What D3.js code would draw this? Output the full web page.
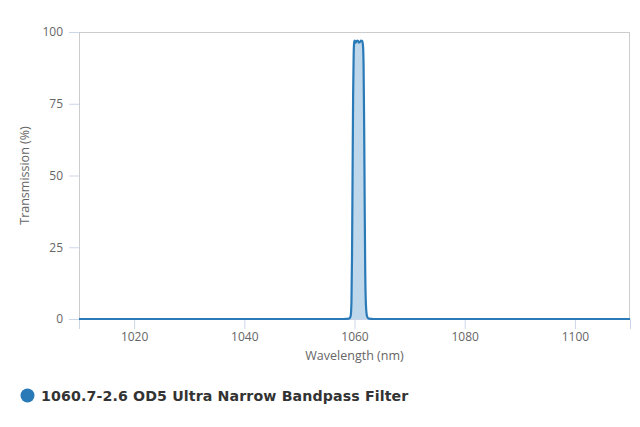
<!DOCTYPE html>
<html><head><meta charset="utf-8">
<script src="https://cdn.jsdelivr.net/npm/d3@7"></script>
<style>
html,body{margin:0;padding:0;background:#fff;}
svg{display:block;}
</style></head>
<body><svg id="c" width="640" height="427"></svg>
<script>
const seriesName = "1060.7-2.6 OD5 Ultra Narrow Bandpass Filter";
const wavelengths = [1010, 1030, 1050, 1058, 1059.0, 1059.3, 1059.45, 1059.55, 1059.65, 1059.75, 1059.85, 1059.95, 1060.05, 1060.2, 1060.4, 1060.6, 1060.8, 1061.0, 1061.2, 1061.4, 1061.55, 1061.65, 1061.75, 1061.85, 1061.95, 1062.1, 1062.3, 1062.6, 1063.5, 1080, 1110];
const transmission = [0, 0, 0, 0, 0.1, 1, 6, 22, 50, 78, 92, 96.5, 97, 96.3, 96.9, 97, 96.3, 96.5, 97, 96.9, 95, 88, 68, 40, 16, 4, 0.8, 0.1, 0, 0, 0];
const xTicks = [1020, 1040, 1060, 1080, 1100];
const yTicks = [0, 25, 50, 75, 100];
const xTitle = "Wavelength (nm)";
const yTitle = "Transmission (%)";

const svg = d3.select("#c");
const m = {l:79, r:630, t:32, b:319};
const x = d3.scaleLinear().domain([1010,1110]).range([m.l, m.r]);
const y = d3.scaleLinear().domain([0,100]).range([m.b, m.t]);
const font = "'Open Sans', 'DejaVu Sans', sans-serif";

// plot border
svg.append("rect").attr("x", m.l+0.5).attr("y", m.t+0.5).attr("width", m.r-m.l-1).attr("height", m.b-m.t)
  .attr("fill","none").attr("stroke","#cccccc").attr("stroke-width",1);

// y axis
const ya = svg.append("g").attr("transform",`translate(${m.l},0)`)
  .call(d3.axisLeft(y).tickValues(yTicks).tickSize(10).tickPadding(6));
ya.select(".domain").remove();
ya.selectAll(".tick line").attr("stroke","#ccd6eb");
ya.selectAll(".tick text").attr("fill","#666").style("font-family",font).style("font-size","12px");

// x axis
const xa = svg.append("g").attr("transform",`translate(0,${m.b})`)
  .call(d3.axisBottom(x).tickValues(xTicks).tickSize(10).tickPadding(3).tickFormat(d3.format("d")));
xa.select(".domain").attr("stroke","#ccd6eb");
xa.selectAll(".tick line").attr("stroke","#ccd6eb");
xa.selectAll(".tick text").attr("fill","#666").style("font-family",font).style("font-size","12px");

// titles
svg.append("text").attr("x", (m.l+m.r)/2).attr("y", 360).attr("text-anchor","middle")
  .attr("fill","#666").style("font-family",font).style("font-size","12.5px").text(xTitle);
svg.append("text").attr("transform",`translate(29,${(m.t+m.b)/2}) rotate(-90)`).attr("text-anchor","middle")
  .attr("fill","#666").style("font-family",font).style("font-size","12.5px").text(yTitle);

// data
const data = wavelengths.map((w,i)=>({w, t: transmission[i]}));
const color = "#2a7ab8";
svg.append("clipPath").attr("id","clip").append("rect")
  .attr("x",m.l).attr("y",m.t-5).attr("width",m.r-m.l).attr("height",m.b-m.t+10);
const g = svg.append("g").attr("clip-path","url(#clip)");
g.append("path").datum(data)
  .attr("d", d3.area().x(d=>x(d.w)).y0(y(0)).y1(d=>y(d.t)).curve(d3.curveMonotoneX))
  .attr("fill", color).attr("fill-opacity", 0.3);
g.append("path").datum(data)
  .attr("d", d3.line().x(d=>x(d.w)).y(d=>y(d.t)).curve(d3.curveMonotoneX))
  .attr("fill","none").attr("stroke", color).attr("stroke-width", 2.2).attr("stroke-linejoin","round");

// legend
svg.append("circle").attr("cx",27.5).attr("cy",395.5).attr("r",7).attr("fill",color);
svg.append("text").attr("x",41).attr("y",401).attr("fill","#333")
  .style("font-family","'DejaVu Sans', sans-serif").style("font-weight","bold").style("font-size","14.2px")
  .style("letter-spacing","0.12px")
  .text(seriesName);
</script>
</body></html>
